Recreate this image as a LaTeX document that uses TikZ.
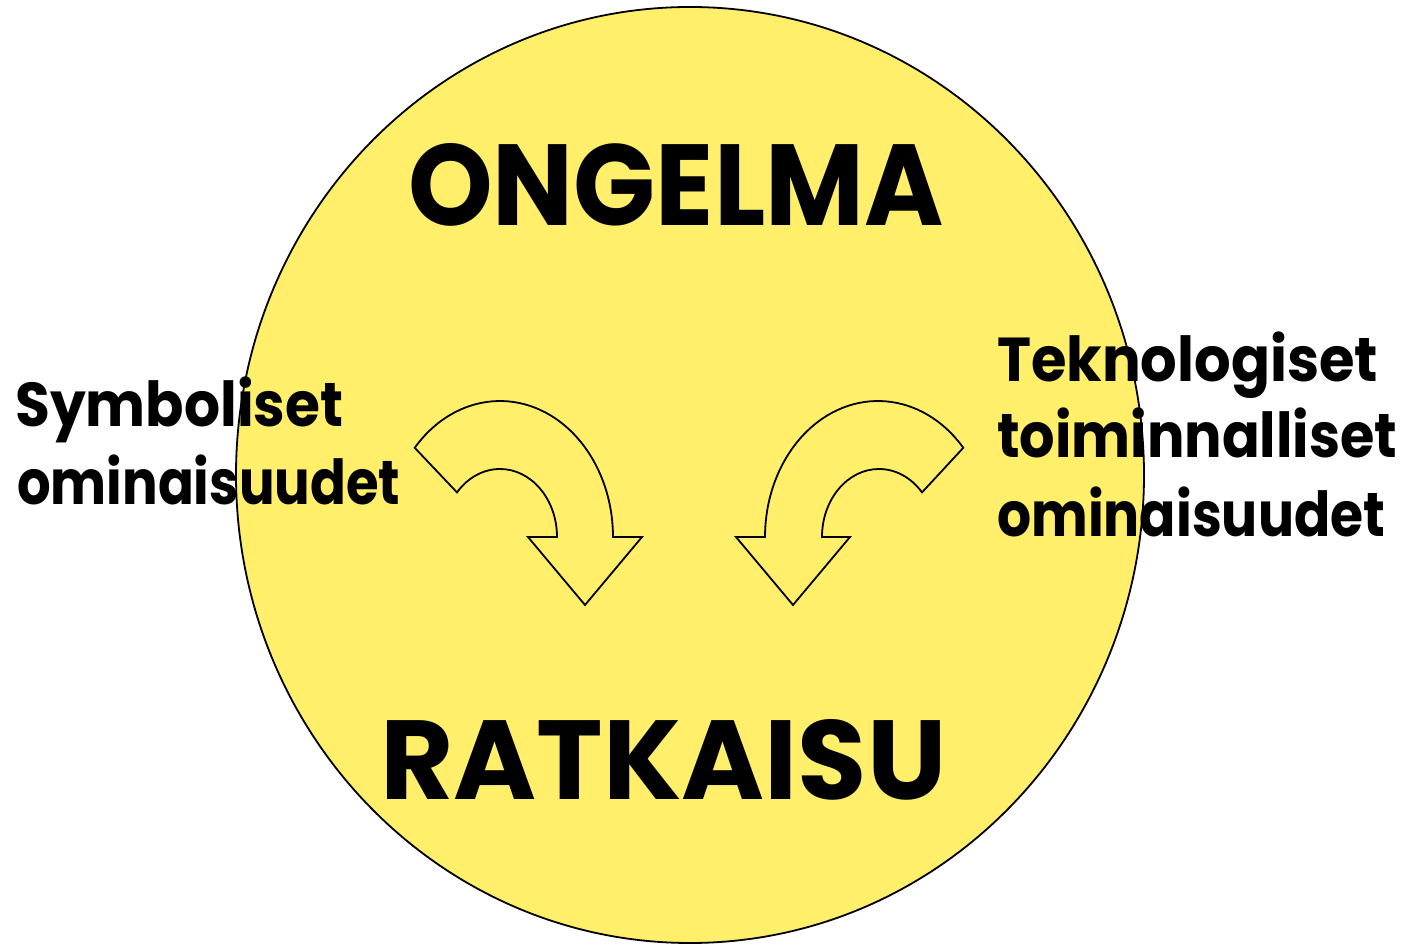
\documentclass[tikz,border=0pt]{standalone}
\usepackage{fontspec}
\usepackage{graphicx}
\usetikzlibrary{shapes.geometric}
\newfontfamily\handfont{Poppins}
\definecolor{sunfill}{RGB}{255,239,107}
\tikzset{
  x=1pt, y=1pt,
  outline/.style={draw=black, line width=1.8pt, line join=miter},
  bigword/.style={inner sep=0pt, anchor=south west, font=\handfont\bfseries},
  sideword/.style={inner sep=0pt, anchor=base west, font=\handfont\bfseries\fontsize{62}{70}\selectfont},
}
\begin{document}
\begin{tikzpicture}
\useasboundingbox (0,0) rectangle (1403,945);

% background disc
\node[outline, fill=sunfill, ellipse, minimum width=908pt, minimum height=936pt, inner sep=0pt]
  (disc) at (690,470) {};

% curved arrow on the left, turning down to the right
\draw[outline, fill=sunfill] (414.7,497.2)
  arc[start angle=139, end angle=0, x radius=113, y radius=136]
  -- (642,408) -- (585,340) -- (528,408) -- (557,408)
  arc[start angle=0, end angle=139, x radius=57, y radius=68]
  -- cycle;

% curved arrow on the right, turning down to the left
\draw[outline, fill=sunfill] (963.3,497.2)
  arc[start angle=41, end angle=180, x radius=113, y radius=136]
  -- (736,408) -- (793,340) -- (850,408) -- (822,408)
  arc[start angle=180, end angle=41, x radius=57, y radius=68]
  -- cycle;

% titles
\node[bigword] (problem) at (408,718) {\resizebox{535pt}{82pt}{ONGELMA}};
\node[bigword] (solution) at (380,145) {\resizebox{566pt}{80pt}{RATKAISU}};

% left label
\node[sideword] (sym1) at (15,518) {\resizebox{328pt}{\height}{Symboliset}};
\node[sideword] (sym2) at (17,440) {\resizebox{383pt}{\height}{ominaisuudet}};

% right label
\node[sideword] (tek1) at (997,563) {\resizebox{381pt}{\height}{Teknologiset}};
\node[sideword] (tek2) at (997,487) {\resizebox{400pt}{\height}{toiminnalliset}};
\node[sideword] (tek3) at (997,408) {\resizebox{388pt}{\height}{ominaisuudet}};
\end{tikzpicture}
\end{document}
